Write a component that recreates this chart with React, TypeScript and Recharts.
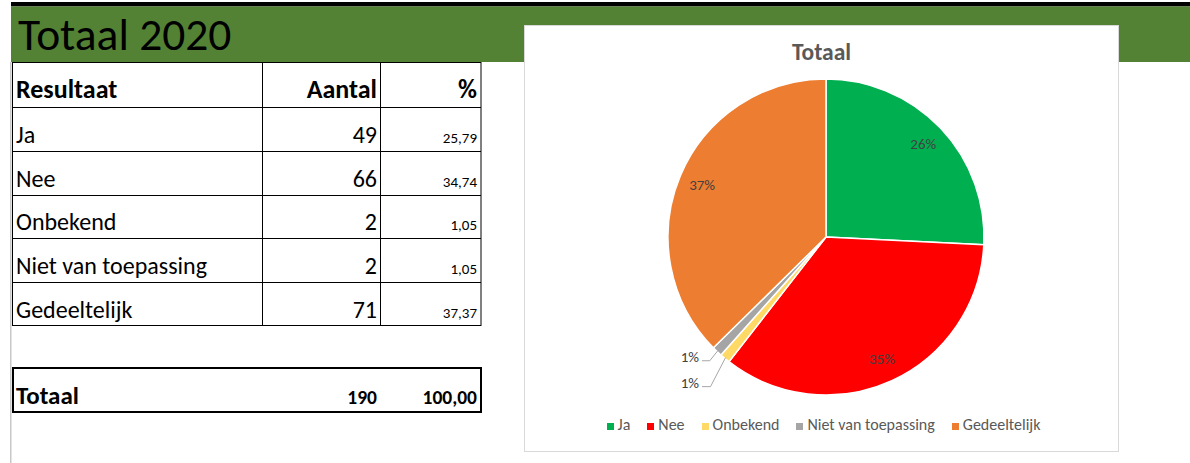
import React from 'react';
import { PieChart, Pie, Cell, Legend } from 'recharts';

const categories = ['Ja', 'Nee', 'Onbekend', 'Niet van toepassing', 'Gedeeltelijk'];
const counts = [49, 66, 2, 2, 71];
const percentLabels = ['25,79', '34,74', '1,05', '1,05', '37,37'];
const totalLabel = 'Totaal';
const totalCount = 190;
const totalPercent = '100,00';
const sheetTitle = 'Totaal 2020';
const chartTitle = 'Totaal';
const headers = ['Resultaat', 'Aantal', '%'];

const sliceColors = ['#00B050', '#FF0000', '#FFD966', '#A5A5A5', '#ED7D31'];

const pieData = categories.map((name, i) => ({ name, value: counts[i] }));

const FONT = 'Calibri, Carlito, "Open Sans", sans-serif';
const RAD = Math.PI / 180;

const leaderOffsets: Record<number, [number, number]> = { 2: [-15, 29], 3: [-8, 10] };

function renderLabel(props: any) {
  const { cx, cy, midAngle, outerRadius, percent, index } = props;
  const text = Math.round(percent * 100) + '%';
  const cos = Math.cos(-midAngle * RAD);
  const sin = Math.sin(-midAngle * RAD);
  if (percent > 0.05) {
    const r = outerRadius * 0.85;
    return (
      <text x={cx + r * cos} y={cy + r * sin} fill="#404040" fontSize={15} fontFamily={FONT}
        textAnchor="middle" dominantBaseline="central">{text}</text>
    );
  }
  const sx = cx + (outerRadius - 1) * cos;
  const sy = cy + (outerRadius - 1) * sin;
  const off = leaderOffsets[index] || [-10, 10];
  const ex = sx + off[0];
  const ey = sy + off[1];
  const hx = 702 - 524;
  return (
    <g>
      <polyline points={`${sx},${sy} ${ex},${ey} ${hx},${ey}`} fill="none" stroke="#A6A6A6" strokeWidth={1} />
      <text x={hx - 3} y={ey - 4} fill="#404040" fontSize={15} fontFamily={FONT}
        textAnchor="end" dominantBaseline="central">{text}</text>
    </g>
  );
}

const rowLines = [107, 151, 195, 238, 282, 325];
const rowBaselines = [143, 187, 230, 274, 318];

export default function App() {
  return (
    <div style={{ position: 'fixed', left: 0, top: 0, width: 1190, height: 463, background: '#fff', overflow: 'hidden', fontFamily: FONT }}>
      <svg width={1190} height={463} style={{ position: 'absolute', left: 0, top: 0 }}>
        <rect x={11} y={2} width={1179} height={4.5} fill="#000" />
        <rect x={11} y={6.5} width={1179} height={55.5} fill="#548235" />
        <rect x={10} y={62} width={1.5} height={401} fill="#C8C8C8" />
        <text x={18} y={50} fontSize={45.5} fontFamily={FONT} fill="#000">{sheetTitle}</text>
        <rect x={12.5} y={62.5} width={468.5} height={263} fill="none" stroke="#000" strokeWidth={1} />
        {rowLines.map((y) => (
          <line key={y} x1={12.5} x2={481} y1={y + 0.5} y2={y + 0.5} stroke="#000" strokeWidth={1} />
        ))}
        <line x1={262.5} x2={262.5} y1={62} y2={325.5} stroke="#000" strokeWidth={1} />
        <line x1={380.5} x2={380.5} y1={62} y2={325.5} stroke="#000" strokeWidth={1} />
        <text x={16} y={98} fontSize={26} fontWeight={700} fill="#000" fontFamily={FONT}>{headers[0]}</text>
        <text x={377} y={98} fontSize={26} fontWeight={700} fill="#000" fontFamily={FONT} textAnchor="end">{headers[1]}</text>
        <text x={477} y={98} fontSize={26} fontWeight={700} fill="#000" fontFamily={FONT} textAnchor="end">{headers[2]}</text>
        {categories.map((c, i) => (
          <g key={c}>
            <text x={16} y={rowBaselines[i]} fontSize={24} fill="#000" fontFamily={FONT}>{c}</text>
            <text x={377} y={rowBaselines[i]} fontSize={24} fill="#000" fontFamily={FONT} textAnchor="end">{counts[i]}</text>
            <text x={477} y={rowBaselines[i]} fontSize={15} fill="#000" fontFamily={FONT} textAnchor="end">{percentLabels[i]}</text>
          </g>
        ))}
        <rect x={13} y={368} width={468} height={44} fill="none" stroke="#000" strokeWidth={2} />
        <text x={16} y={404} fontSize={25} fontWeight={700} fill="#000" fontFamily={FONT}>{totalLabel}</text>
        <text x={377} y={404} fontSize={19.5} fontWeight={700} fill="#000" fontFamily={FONT} textAnchor="end">{totalCount}</text>
        <text x={477} y={404} fontSize={19.5} fontWeight={700} fill="#000" fontFamily={FONT} textAnchor="end">{totalPercent}</text>
      </svg>
      <div style={{ position: 'absolute', left: 524, top: 25, width: 595, height: 427, background: '#fff', border: '1px solid #D9D9D9', boxSizing: 'border-box' }}>
        <svg width={595} height={60} style={{ position: 'absolute', left: -1, top: -1 }}>
          <text x={297.5} y={35} textAnchor="middle" fontSize={23.5} fontWeight={700} fill="#595959" fontFamily={FONT}>{chartTitle}</text>
        </svg>
        <PieChart width={595} height={427} margin={{ top: 0, right: 0, bottom: 0, left: 0 }} style={{ position: 'absolute', left: -1, top: -1 }}>
          <Pie data={pieData} dataKey="value" nameKey="name" cx={302} cy={212} outerRadius={158}
            startAngle={90} endAngle={-270} stroke="#fff" strokeWidth={1.5}
            label={renderLabel} labelLine={false} isAnimationActive={false}>
            {pieData.map((d, i) => (
              <Cell key={d.name} fill={sliceColors[i]} />
            ))}
          </Pie>
          <Legend verticalAlign="bottom" align="center" iconType="square" iconSize={7}
            itemSorter={null as any}
            wrapperStyle={{ top: 390, bottom: 'auto', left: 8, width: 600, fontFamily: FONT }}
            formatter={(value: any) => (
              <span style={{ color: '#595959', fontSize: 16, marginRight: 7 }}>{value}</span>
            )} />
        </PieChart>
      </div>
    </div>
  );
}
